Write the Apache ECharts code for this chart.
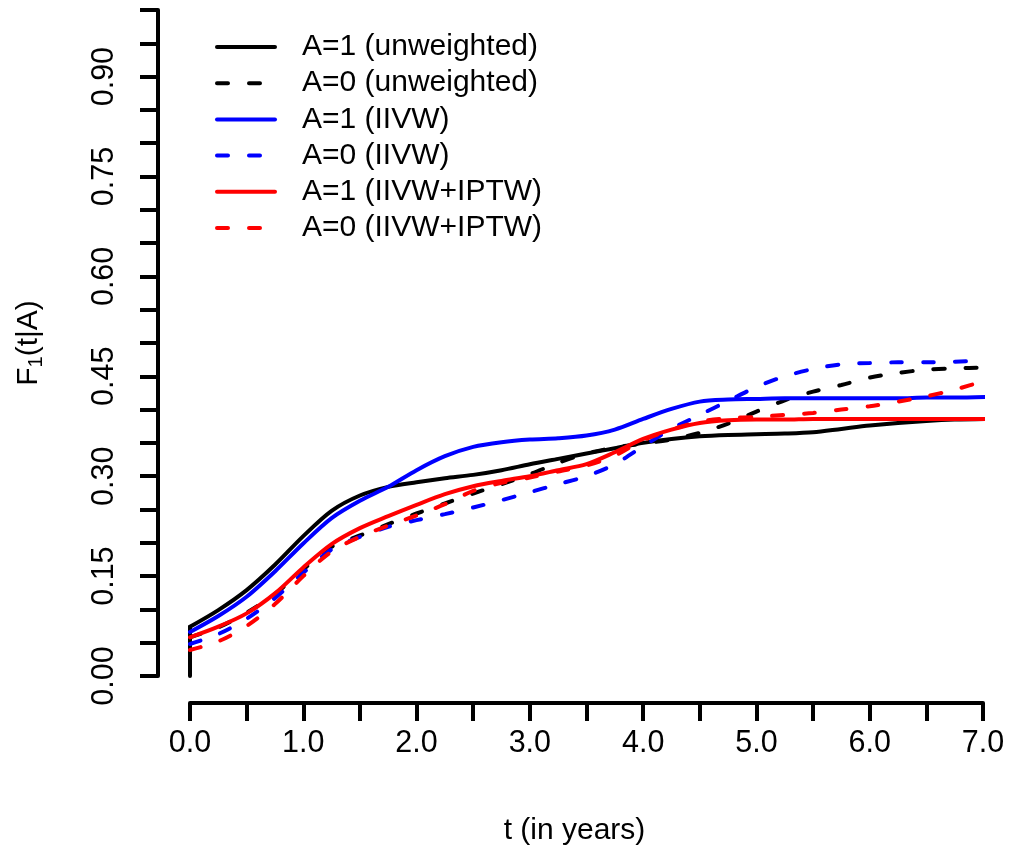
<!DOCTYPE html>
<html>
<head>
<meta charset="utf-8">
<script src="https://cdn.jsdelivr.net/npm/echarts@6/dist/echarts.min.js"></script>
<style>
  html, body { margin: 0; padding: 0; background: #ffffff; }
  #chart { width: 1009px; height: 855px; }
</style>
</head>
<body>
<div id="chart"></div>
<script>
// Time points (years) at which the cumulative incidence curves are given
const times = [0, 0.25, 0.5, 0.75, 1, 1.25, 1.5, 1.75, 2, 2.25, 2.5, 2.75, 3, 3.25, 3.5,
               3.75, 4, 4.25, 4.5, 4.75, 5, 5.25, 5.5, 5.75, 6, 6.25, 6.5, 6.75, 7.05];

// F1(t|A) estimates
const a1Unweighted = [0.074, 0.099, 0.129, 0.167, 0.210, 0.248, 0.271, 0.284, 0.291, 0.297, 0.302, 0.309, 0.318, 0.326, 0.334,
                      0.342, 0.350, 0.356, 0.360, 0.362, 0.363, 0.364, 0.366, 0.371, 0.376, 0.380, 0.383, 0.385, 0.386];
const a0Unweighted = [0.058, 0.073, 0.095, 0.123, 0.160, 0.194, 0.211, 0.228, 0.244, 0.259, 0.274, 0.288, 0.303, 0.320, 0.334,
                      0.343, 0.349, 0.355, 0.365, 0.379, 0.397, 0.414, 0.427, 0.437, 0.448, 0.455, 0.460, 0.462, 0.463];
const a1IIVW       = [0.066, 0.090, 0.119, 0.157, 0.199, 0.237, 0.263, 0.284, 0.309, 0.330, 0.344, 0.351, 0.355, 0.357, 0.361,
                      0.370, 0.386, 0.401, 0.412, 0.415, 0.416, 0.417, 0.417, 0.417, 0.417, 0.417, 0.418, 0.418, 0.419];
const a0IIVW       = [0.048, 0.063, 0.086, 0.117, 0.155, 0.190, 0.209, 0.224, 0.234, 0.243, 0.253, 0.264, 0.276, 0.288, 0.300,
                      0.318, 0.345, 0.371, 0.392, 0.413, 0.434, 0.450, 0.461, 0.468, 0.470, 0.471, 0.471, 0.472, 0.474];
const a1IIVWIPTW   = [0.058, 0.074, 0.094, 0.124, 0.163, 0.198, 0.222, 0.240, 0.257, 0.273, 0.285, 0.293, 0.300, 0.309, 0.318,
                      0.336, 0.356, 0.370, 0.380, 0.384, 0.385, 0.385, 0.386, 0.386, 0.386, 0.386, 0.386, 0.386, 0.386];
const a0IIVWIPTW   = [0.039, 0.052, 0.075, 0.108, 0.150, 0.187, 0.209, 0.226, 0.241, 0.258, 0.278, 0.290, 0.298, 0.307, 0.316,
                      0.331, 0.354, 0.370, 0.382, 0.387, 0.389, 0.392, 0.395, 0.400, 0.405, 0.412, 0.420, 0.430, 0.445];

const seriesNames = ['A=1 (unweighted)', 'A=0 (unweighted)', 'A=1 (IIVW)', 'A=0 (IIVW)',
                     'A=1 (IIVW+IPTW)', 'A=0 (IIVW+IPTW)'];
const seriesValues = [a1Unweighted, a0Unweighted, a1IIVW, a0IIVW, a1IIVWIPTW, a0IIVWIPTW];
const seriesColors = ['#000000', '#000000', '#0000ff', '#0000ff', '#ff0000', '#ff0000'];
const seriesDashed = [false, true, false, true, false, true];

const FONT = '"Liberation Sans", Arial, Helvetica, sans-serif';
const FS = 30.5;
const LW = 4;
const DASH = [11, 21];

function styleOf(k) {
  return {
    color: seriesColors[k],
    width: LW,
    type: seriesDashed[k] ? DASH : 'solid',
    cap: 'round'
  };
}

const series = seriesValues.map((vals, k) => ({
  name: seriesNames[k],
  type: 'line',
  data: times.map((t, i) => [t, vals[i]]),
  symbol: 'none',
  smooth: 0.3,
  clip: false,
  z: 2 + k,
  lineStyle: styleOf(k),
  itemStyle: { color: seriesColors[k] },
  emphasis: { disabled: true }
}));

// vertical rise of the unweighted A=1 curve at t = 0
series.push({
  name: seriesNames[0],
  type: 'line',
  data: [[times[0], 0], [times[0], a1Unweighted[0]]],
  symbol: 'none',
  clip: false,
  z: 2,
  lineStyle: styleOf(0),
  itemStyle: { color: seriesColors[0] },
  emphasis: { disabled: true }
});

const chart = echarts.init(document.getElementById('chart'), null, { renderer: 'canvas' });
chart.setOption({
  animation: false,
  backgroundColor: '#ffffff',
  textStyle: { fontFamily: FONT },
  grid: { left: 190, right: 26, top: 10, bottom: 179, containLabel: false },
  legend: {
    orient: 'vertical',
    left: 215,
    top: 32,
    padding: 0,
    itemWidth: 58,
    itemHeight: 30,
    itemGap: 6.8 - 0.6,
    selectedMode: false,
    itemStyle: { opacity: 0 },
    data: seriesNames.map((n, k) => ({ name: n, lineStyle: styleOf(k), itemStyle: { opacity: 0 } })),
    textStyle: { fontFamily: FONT, fontSize: 30, color: '#000', padding: [0, 0, 0, 22] }
  },
  xAxis: {
    type: 'value',
    min: 0,
    max: 7,
    interval: 0.5,
    offset: 27,
    name: 't (in years)',
    nameLocation: 'middle',
    nameGap: 113,
    nameTextStyle: { fontFamily: FONT, fontSize: 30, color: '#000', verticalAlign: 'top', padding: [0, 24, 0, 0] },
    axisLine: { show: true, onZero: false, lineStyle: { color: '#000', width: LW } },
    axisTick: { show: true, length: 18, lineStyle: { color: '#000', width: LW } },
    axisLabel: {
      fontFamily: FONT, fontSize: FS, color: '#000', margin: 25,
      formatter: v => (Math.abs(v - Math.round(v)) < 1e-9 ? v.toFixed(1) : '')
    },
    splitLine: { show: false }
  },
  yAxis: {
    type: 'value',
    min: 0,
    max: 1,
    interval: 0.05,
    offset: 32,
    name: '{a|F}{s|1}{a|(t|A)}',
    nameLocation: 'middle',
    nameRotate: 90,
    nameGap: 112,
    nameTextStyle: {
      fontFamily: FONT, fontSize: 30, color: '#000',
      rich: {
        a: { fontFamily: FONT, fontSize: 30, color: '#000', lineHeight: 34 },
        s: { fontFamily: FONT, fontSize: 20, color: '#000', lineHeight: 24, verticalAlign: 'bottom' }
      }
    },
    axisLine: { show: true, onZero: false, lineStyle: { color: '#000', width: LW } },
    axisTick: { show: true, length: 18, lineStyle: { color: '#000', width: LW } },
    axisLabel: {
      fontFamily: FONT, fontSize: FS, color: '#000', margin: 38, rotate: 90,
      formatter: v => (Math.round(v / 0.05) % 3 === 0 && v < 0.95 ? v.toFixed(2) : '')
    },
    splitLine: { show: false }
  },
  series: series
});
</script>
</body>
</html>
